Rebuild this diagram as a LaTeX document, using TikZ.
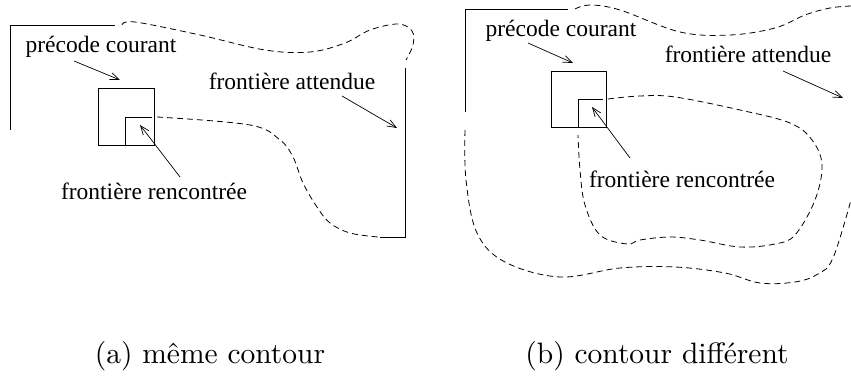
\documentclass[tikz,border=0pt]{standalone}
\usepackage{fontspec}
\usetikzlibrary{arrows.meta}
\newfontfamily\labfont{Liberation Serif}
\newfontfamily\capfont{lmroman10-regular}[Extension=.otf]
\begin{document}
\begin{tikzpicture}[x=1pt,y=-1pt,
    frame/.style={line width=0.9pt, line join=miter},
    bound/.style={line width=0.8pt, dash pattern=on 6pt off 4pt},
    pointer/.style={line width=0.7pt, -{Straight Barb[length=9pt,width=7pt,line width=0.7pt]}},
    lab/.style={inner sep=0pt, anchor=base, font=\labfont\fontsize{23.5}{26}\selectfont},
    captext/.style={inner sep=0pt, anchor=base, font=\capfont\fontsize{29.5}{33}\selectfont}]
\useasboundingbox (0,0) rectangle (851,379);

% ---------- (a) same contour ----------
\draw[frame] (10,130) -- (10,25) -- (115,25);
\draw[frame] (405,68) -- (405,237) -- (380,237);
\draw[bound] plot[smooth, tension=0.6] coordinates {(122,25) (135,22) (200,35) (265,50) (310,52) (345,43) (370,30) (398,24) (412,31) (413,45) (406,60)};
\draw[bound] plot[smooth, tension=0.6] coordinates {(157,117) (250,125) (280,140) (293,157) (303,183) (317,207) (330,223) (350,233) (378,237)};
\draw[frame] (98,88) rectangle (154,145);
\draw[frame] (125,145) -- (125,117) -- (152,117);

\node[lab] (pa) at (101,53) {précode courant};
\node[lab] (aa) at (292,90) {frontière attendue};
\node[lab] (ra) at (154,200) {frontière rencontrée};
\coordinate (pa1) at (74,61);   \coordinate (pa2) at (120,80);
\coordinate (ra1) at (180,177); \coordinate (ra2) at (140,125);
\coordinate (aa1) at (342,96);  \coordinate (aa2) at (397,128);
\draw[pointer] (pa1) -- (pa2);
\draw[pointer] (ra1) -- (ra2);
\draw[pointer] (aa1) -- (aa2);

\node[captext] (capa) at (210,363) {(a) même contour};

% ---------- (b) different contour ----------
\draw[frame] (465,112) -- (465,9) -- (568,9);
\draw[bound] plot[smooth, tension=0.6] coordinates {(575,9) (590,5) (620,10) (680,32) (730,35) (775,28) (805,15) (830,8) (851,6)};
\draw[bound] plot[smooth, tension=0.6] coordinates {(465,130) (466,180) (477,233) (505,262) (560,277) (620,268) (675,267) (725,273) (760,283) (795,282) (818,274) (833,258) (851,200)};
\draw[bound] plot[smooth, tension=0.6] coordinates {(608,99) (640,96) (675,97) (740,110) (790,123) (812,140) (822,165) (815,200) (795,235) (775,244) (740,247) (700,240) (670,237) (640,240) (627,244) (600,235) (585,205) (580,170) (578,135)};
\draw[frame] (551,71) rectangle (606,127);
\draw[frame] (578,127) -- (578,99) -- (603,99);

\node[lab] (pb) at (561,37) {précode courant};
\node[lab] (ab) at (748,63) {frontière attendue};
\node[lab] (rb) at (682,188) {frontière rencontrée};
\coordinate (pb1) at (528,43);  \coordinate (pb2) at (573,63);
\coordinate (rb1) at (630,158); \coordinate (rb2) at (592,107);
\coordinate (ab1) at (783,71);  \coordinate (ab2) at (843,98);
\draw[pointer] (pb1) -- (pb2);
\draw[pointer] (rb1) -- (rb2);
\draw[pointer] (ab1) -- (ab2);

\node[captext] (capb) at (657,363) {(b) contour différent};
\end{tikzpicture}
\end{document}
